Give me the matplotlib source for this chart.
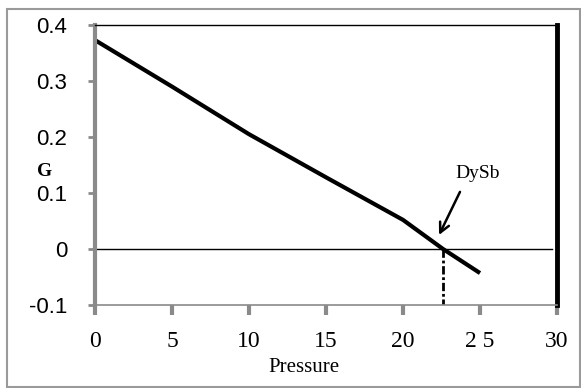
import matplotlib
matplotlib.use("Agg")
import matplotlib.pyplot as plt
from matplotlib.patches import Rectangle

# data
pressure = [0, 5, 10, 15, 20, 22.6, 25]
G = [0.373, 0.290, 0.205, 0.128, 0.052, 0.0, -0.043]
p_trans = 22.6
x_ticks = [0, 5, 10, 15, 20, 25, 30]
x_labels = ["0", "5", "10", "15", "20", "2 5", "30"]
y_ticks = [-0.1, 0, 0.1, 0.2, 0.3, 0.4]
y_labels = ["-0.1", "0", "0.1", "0.2", "0.3", "0.4"]

W, H = 581, 388
fig = plt.figure(figsize=(W / 100, H / 100), dpi=100)

# outer frame
fig.patches.append(Rectangle((7 / W, 1 - 387 / H), 573 / W, 378 / H,
                             transform=fig.transFigure, fill=False,
                             edgecolor="#9a9a9a", linewidth=1.5))

ax = fig.add_axes([95 / W, 1 - 305 / H, 462 / W, 280 / H])
ax.set_xlim(0, 30)
ax.set_ylim(-0.1, 0.4)

ax.plot(pressure, G, color="black", linewidth=3, solid_capstyle="butt")
ax.plot([0, 29.7], [0, 0], color="black", linewidth=1)
ax.plot([p_trans, p_trans], [0, -0.1], color="black", linewidth=2,
        linestyle=(0, (3, 1, 1, 1)))

# label and arrow for the transition
ax.text(24.87, 0.134, "DySb", fontsize=14, family="Liberation Serif",
        ha="center", va="center")
ax.annotate("", xy=(22.34, 0.025), xytext=(23.7, 0.102),
            arrowprops=dict(arrowstyle="->,head_length=0.7,head_width=0.35",
                            color="black", linewidth=1.8, shrinkA=0, shrinkB=0))

ax.set_xticks(x_ticks)
ax.set_xticklabels(x_labels, family="Liberation Serif", fontsize=17)
ax.set_yticks(y_ticks)
ax.set_yticklabels(y_labels, family="Liberation Sans", fontsize=16)

ax.spines["left"].set_color("#8a8a8a")
ax.spines["left"].set_linewidth(3)
ax.spines["bottom"].set_color("#8a8a8a")
ax.spines["bottom"].set_linewidth(1.2)
ax.spines["top"].set_color("black")
ax.spines["top"].set_linewidth(1)
ax.spines["right"].set_color("black")
ax.spines["right"].set_linewidth(3.5)

ax.tick_params(axis="x", direction="out", length=7, width=3, color="#8a8a8a", pad=12)
ax.tick_params(axis="y", direction="out", length=5, width=2, color="#8a8a8a", pad=15)

fig.text(45 / W, 1 - 171 / H, "G", family="Liberation Serif", fontweight="bold",
         fontsize=14, ha="center", va="center")
fig.text(304 / W, 1 - 368 / H, "Pressure", family="Liberation Serif",
         fontsize=15, ha="center", va="center")

fig.savefig("out.png", dpi=100)
